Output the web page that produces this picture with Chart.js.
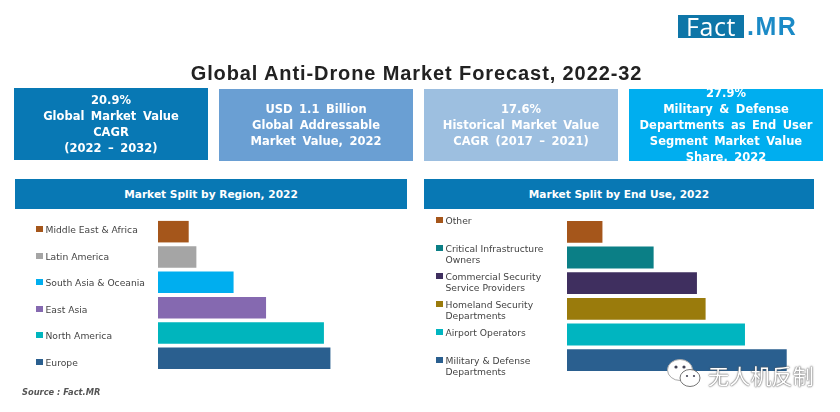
<!DOCTYPE html>
<html lang="en">
<head>
    <meta charset="utf-8">
    <title>Global Anti-Drone Market Forecast, 2022-32</title>
    <style>
        html, body { margin: 0; padding: 0; background: #fff; }
        #page { position: relative; width: 840px; height: 412px; overflow: hidden; font-family: "DejaVu Sans", sans-serif; filter: blur(0.45px); }
        #page > * { position: absolute; }
        #title { left: 140px; width: 553px; top: 62px; text-align: center; font: bold 20px/22px "Liberation Sans", sans-serif; letter-spacing: 0.9px; color: #222; }
        #logo-box { left: 678px; top: 15px; width: 66px; height: 23px; background: #0e76a8; color: #fff; font: 25px/23px "Open Sans", sans-serif; text-align: center; letter-spacing: 0.6px; }
        #logo-mr { left: 747px; top: 15px; color: #1b8ac6; font: bold 25px/23px "Liberation Sans", sans-serif; letter-spacing: 1.5px; }
        .kpi { top: 89px; width: 194px; height: 72px; color: #fff; font-weight: bold; font-size: 11.5px; line-height: 16px; text-align: center; overflow: hidden; display: flex; align-items: center; justify-content: center; white-space: pre-line; word-spacing: 2.5px; }
        .panel-head { top: 179px; height: 30px; background: #0878b4; color: #fff; font-weight: bold; font-size: 10.6px; line-height: 30px; text-align: center; }
        .legend { font-size: 9.2px; line-height: 11px; color: #444; width: 120px; }
        .legend div { position: absolute; width: 120px; white-space: pre; padding-left: 9.5px; }
        .legend i { position: absolute; left: 0; top: 2px; width: 7px; height: 6px; }
        canvas { display: block; }
        #source { left: 22px; top: 386px; font-size: 8.3px; line-height: 12px; font-style: italic; font-weight: bold; color: #555; }
        #mark-text { left: 708px; top: 361px; font: 21px/28px "Noto Sans CJK SC", sans-serif; color: #fff; letter-spacing: 0.2px; text-shadow: 0 0 2px #555, 0 0 1px #555; }
        #mark-icon { left: 666px; top: 357px; }
    </style>
    <script src="https://cdn.jsdelivr.net/npm/chart.js@4"></script>
</head>
<body>
<div id="page">
    <div id="logo-box">Fact</div>
    <div id="logo-mr">.MR</div>
    <div id="title">Global Anti-Drone Market Forecast, 2022-32</div>

    <div class="kpi" style="left:14px;top:88px;background:#0878b4">20.9%
Global Market Value
CAGR
(2022 – 2032)</div>
    <div class="kpi" style="left:219px;background:#6a9fd3">USD 1.1 Billion
Global Addressable
Market Value, 2022</div>
    <div class="kpi" style="left:424px;background:#9dbfe0">17.6%
Historical Market Value
CAGR (2017 – 2021)</div>
    <div class="kpi" style="left:629px;background:#00aeef">27.9%
Military &amp; Defense
Departments as End User
Segment Market Value
Share, 2022</div>

    <div class="panel-head" style="left:15px;width:392px">Market Split by Region, 2022</div>
    <div class="panel-head" style="left:424px;width:390px">Market Split by End Use, 2022</div>

    <div class="legend" id="region-legend" style="left:36px;top:224px"></div>
    <div class="legend" id="enduse-legend" style="left:436px;top:215px"></div>

    <canvas id="region-chart" width="248" height="152" style="left:158px;top:219px"></canvas>
    <canvas id="enduse-chart" width="252" height="154" style="left:567px;top:219px"></canvas>

    <div id="source">Source : Fact.MR</div>

    <svg id="mark-icon" width="36" height="34" viewBox="0 0 36 34">
        <ellipse cx="14" cy="13" rx="12.5" ry="10.5" fill="#fff" stroke="#aaa"/>
        <ellipse cx="24" cy="21" rx="10" ry="8.5" fill="#fff" stroke="#777"/>
        <circle cx="10" cy="10" r="1.6" fill="#445"/>
        <circle cx="18" cy="10" r="1.6" fill="#445"/>
        <circle cx="21" cy="19" r="1.1" fill="#445"/>
        <circle cx="28" cy="19" r="1.1" fill="#445"/>
    </svg>
    <div id="mark-text">无人机反制</div>
</div>

<script>
    // Shares in percent, top bar first
    var regionLabels = ["Middle East & Africa", "Latin America", "South Asia & Oceania", "East Asia", "North America", "Europe"];
    var regionValues = [5.2, 6.5, 12.8, 18.3, 28.1, 29.2];
    var regionColors = ["#a5561b", "#a5a5a5", "#00aeef", "#8569b0", "#00b5bd", "#2a5f8f"];

    var endUseLabels = ["Other", "Critical Infrastructure\nOwners", "Commercial Security\nService Providers", "Homeland Security\nDepartments", "Airport Operators", "Military & Defense\nDepartments"];
    var endUseValues = [4.5, 11.0, 16.5, 17.6, 22.6, 27.9];
    var endUseColors = ["#a5561b", "#0b7f86", "#3f2f5f", "#9a7b0c", "#00b5c0", "#2a5f8f"];

    function drawBars(id, labels, values, colors, maxValue) {
        new Chart(document.getElementById(id), {
            type: "bar",
            data: {
                labels: labels,
                datasets: [{ data: values, backgroundColor: colors, barPercentage: 0.85, categoryPercentage: 1 }]
            },
            options: {
                indexAxis: "y",
                responsive: false,
                animation: false,
                layout: { padding: 0 },
                plugins: { legend: { display: false }, tooltip: { enabled: false } },
                scales: {
                    x: { display: false, min: 0, max: maxValue },
                    y: { display: false }
                }
            }
        });
    }

    // The keys sit beside the bars but on their own pitch, so they are not axis ticks
    function drawLegend(id, labels, colors, pitch) {
        var box = document.getElementById(id);
        labels.forEach(function(label, i) {
            var row = document.createElement("div");
            row.style.top = (i * pitch) + "px";
            row.textContent = label;
            var key = document.createElement("i");
            key.style.background = colors[i];
            row.appendChild(key);
            box.appendChild(row);
        });
    }

    drawBars("region-chart", regionLabels, regionValues, regionColors, 42);
    drawBars("enduse-chart", endUseLabels, endUseValues, endUseColors, 32);
    drawLegend("region-legend", regionLabels, regionColors, 26.6);
    drawLegend("enduse-legend", endUseLabels, endUseColors, 28);
</script>
</body>
</html>
